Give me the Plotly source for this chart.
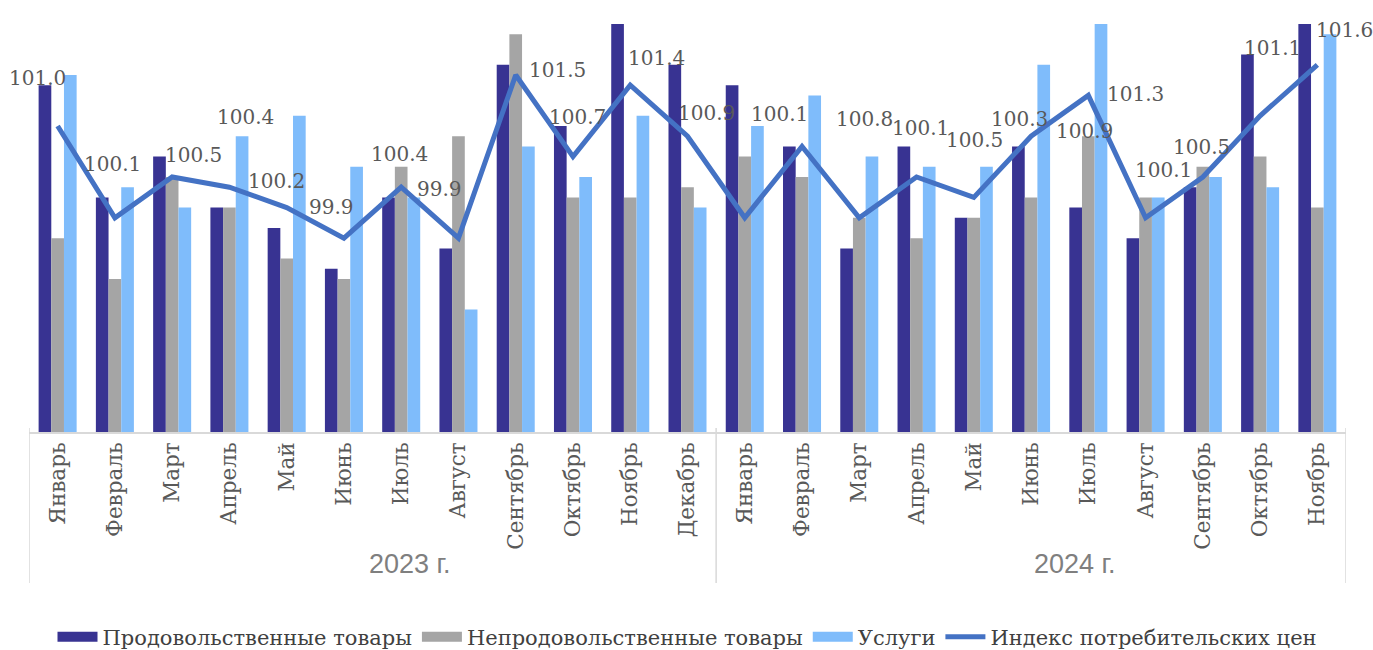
import plotly.graph_objects as go

months_2023 = ["Январь", "Февраль", "Март", "Апрель", "Май", "Июнь", "Июль",
               "Август", "Сентябрь", "Октябрь", "Ноябрь", "Декабрь"]
months_2024 = ["Январь", "Февраль", "Март", "Апрель", "Май", "Июнь", "Июль",
               "Август", "Сентябрь", "Октябрь", "Ноябрь"]
years = ["2023 г.", "2024 г."]

food = [101.4, 100.3, 100.7, 100.2, 100.0, 99.6, 100.3, 99.8, 101.6, 101.0, 102.0, 101.6,
        101.4, 100.8, 99.8, 100.8, 100.1, 100.8, 100.2, 99.9, 100.4, 101.7, 102.0]
nonfood = [99.9, 99.5, 100.5, 100.2, 99.7, 99.5, 100.6, 100.9, 101.9, 100.3, 100.3, 100.4,
           100.7, 100.5, 100.1, 99.9, 100.1, 100.3, 100.9, 100.3, 100.6, 100.7, 100.2]
services = [101.5, 100.4, 100.2, 100.9, 101.1, 100.6, 100.3, 99.2, 100.8, 100.5, 101.1, 100.2,
            101.0, 101.3, 100.7, 100.6, 100.6, 101.6, 102.0, 100.3, 100.5, 100.4, 101.9]
cpi = [101.0, 100.1, 100.5, 100.4, 100.2, 99.9, 100.4, 99.9, 101.5, 100.7, 101.4, 100.9,
       100.1, 100.8, 100.1, 100.5, 100.3, 100.9, 101.3, 100.1, 100.5, 101.1, 101.6]

# label offsets (pixels) for CPI value labels, relative to the line points
label_dx = [-20, -2, 21, 16, -10, -12, -2, -19, 42, 5, 26, 19,
            35, 62, 61, 58, 46, 53, 47, 18, -1, 12, 27]
label_dy = [48, 54, 22, 70, 27, 31, 33, 49, 5, 40, 27, 23,
            104, 27, 90, 37, 78, 5, 1, 48, 30, 68, 35]

cats = [f"{m} 2023" for m in months_2023] + [f"{m} 2024" for m in months_2024]
tick_text = months_2023 + months_2024

SERIF = "DejaVu Serif"
SANS = "Liberation Sans"
C_FOOD, C_NONFOOD, C_SERV, C_CPI = "#383392", "#A5A5A5", "#7FBCFB", "#4472C4"
names = ["Продовольственные товары", "Непродовольственные товары", "Услуги",
         "Индекс потребительских цен"]

fig = go.Figure()
for vals, col, nm in [(food, C_FOOD, names[0]), (nonfood, C_NONFOOD, names[1]),
                      (services, C_SERV, names[2])]:
    fig.add_trace(go.Bar(x=cats, y=vals, name=nm, showlegend=False, legendgroup=nm,
                         marker=dict(color=col, line=dict(width=0))))
fig.add_trace(go.Scatter(x=cats, y=cpi, name=names[3], showlegend=False, legendgroup=names[3],
                         mode="lines", line=dict(color=C_CPI, width=5)))

# legend entries (wide swatches like the original)
for col, nm, w in [(C_FOOD, names[0], 12), (C_NONFOOD, names[1], 12),
                   (C_SERV, names[2], 12), (C_CPI, names[3], 5)]:
    fig.add_trace(go.Scatter(x=[None], y=[None], mode="lines", name=nm, legendgroup=nm,
                             line=dict(color=col, width=w), showlegend=True))

for i, (c, v) in enumerate(zip(cats, cpi)):
    fig.add_annotation(x=c, y=v, xref="x", yref="y", text=f"{v:.1f}",
                       showarrow=False, xshift=label_dx[i], yshift=label_dy[i],
                       xanchor="center", yanchor="middle",
                       font=dict(family=SERIF, size=20, color="#595959"))

n23 = len(months_2023)
n24 = len(months_2024)
fig.add_annotation(x=6.15, y=-0.324, xref="x", yref="paper", text=years[0],
                   showarrow=False, xanchor="center", yanchor="middle",
                   font=dict(family=SANS, size=27, color="#7F7F7F"))
fig.add_annotation(x=17.77, y=-0.324, xref="x", yref="paper", text=years[1],
                   showarrow=False, xanchor="center", yanchor="middle",
                   font=dict(family=SANS, size=27, color="#7F7F7F"))

for xb in [-0.5, n23 - 0.5, n23 + n24 - 0.5]:
    fig.add_shape(type="line", xref="x", yref="paper", x0=xb, x1=xb, y0=0.01, y1=-0.37,
                  line=dict(color="#D9D9D9", width=1.5))

fig.update_layout(
    width=1373, height=650,
    margin=dict(l=29, r=27, t=24, b=218),
    paper_bgcolor="white", plot_bgcolor="white",
    barmode="group", bargap=0.336, bargroupgap=0,
    showlegend=True,
    legend=dict(orientation="h", x=0.5, xanchor="center",
                yref="container", y=0.02, yanchor="middle",
                font=dict(family=SERIF, size=21, color="#404040"),
                itemwidth=40, traceorder="normal"),
    xaxis=dict(type="category", tickvals=cats, ticktext=tick_text, tickangle=-90,
               range=[-0.5, n23 + n24 - 0.5], autorange=False,
               tickfont=dict(family=SERIF, size=21.5, color="#595959"),
               showline=True, linecolor="#D9D9D9", linewidth=1.5,
               showgrid=False, ticks="", zeroline=False),
    yaxis=dict(range=[98, 102], autorange=False, visible=False,
               showgrid=False, zeroline=False),
)

fig.write_html("out.html", config={"displayModeBar": False},
               post_script="document.body.style.margin='0';")
